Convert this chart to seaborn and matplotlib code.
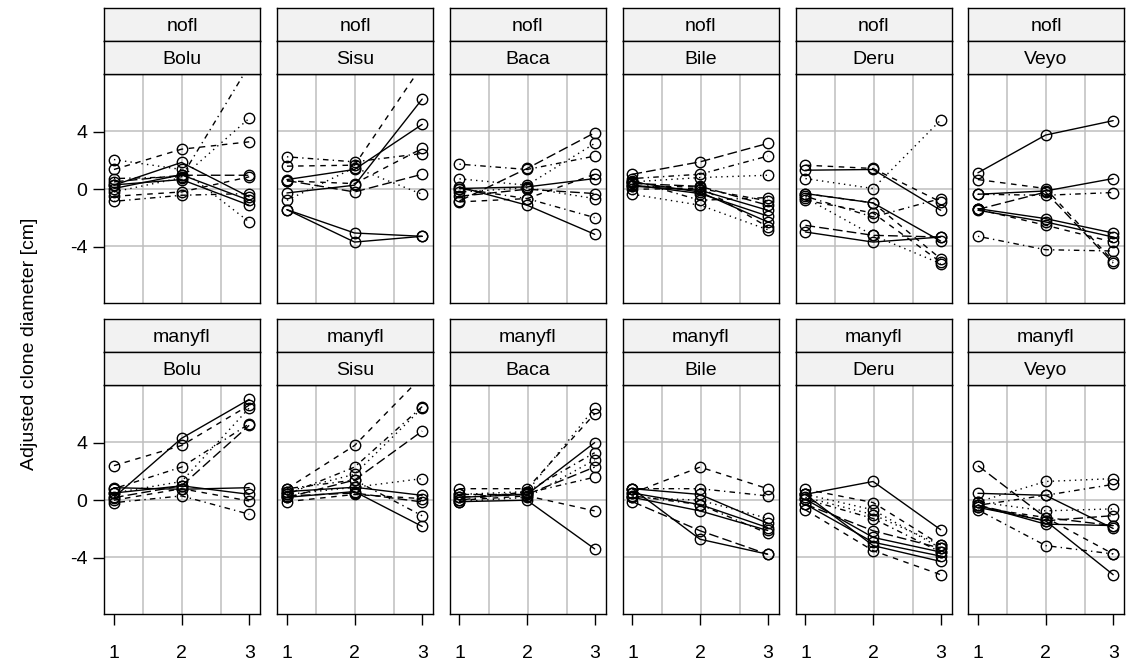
import pandas as pd
import matplotlib
matplotlib.use("Agg")
import matplotlib.pyplot as plt
import seaborn as sns

sites = ["Bolu", "Sisu", "Baca", "Bile", "Deru", "Veyo"]
flowering = ["nofl", "manyfl"]
times = [1, 2, 3]
yticks = [-4, 0, 4]

# one tuple per plant: adjusted diameter at time 1, 2, 3
nofl_bolu = [(2.06, 1.37, -2.27), (1.37, 2.78, 3.29), (0.28, 1.86, -0.53), (0.05, 1.0, -0.77),
             (0.51, 0.97, 0.97), (0.74, 0.86, 8.6), (-0.19, 0.8, 4.92), (-0.49, -0.19, 0.86),
             (-0.84, -0.42, -0.30), (0.3, 0.67, -1.11)]
nofl_bolu_lty = ["dotted", "dashed", "solid", "solid", "longdash", "dotdash", "dotted",
                 "dashed", "dotdash", "solid"]
nofl_sisu = [(2.25, 1.9, 2.48), (1.6, 1.67, 8.6), (0.67, 1.37, 4.5), (0.58, 0.39, 2.83),
             (-0.26, 0.28, 6.26), (-0.77, 1.5, -0.35), (0.6, -0.19, 1.04),
             (-1.42, -3.04, -3.27), (-1.42, -3.67, -3.27)]
nofl_sisu_lty = ["dotdash", "dashed", "solid", "dashed", "solid", "dotted", "longdash",
                 "solid", "solid"]
nofl_baca = [(1.74, 1.37, 2.3), (0.16, -1.11, -3.13), (-0.81, 1.44, 3.92), (0.72, 0.28, 3.18),
             (-0.88, -0.65, 1.04), (0.05, 0.16, 0.74), (-0.49, 0.0, -0.3),
             (0.05, -0.65, -1.97), (-0.2, 0.1, -0.65)]
nofl_baca_lty = ["dotdash", "solid", "longdash", "dotted", "dashed", "solid", "longdash",
                 "dotdash", "dotted"]
nofl_bile = [(1.04, 1.9, 3.18), (0.74, 1.04, 2.3), (0.51, 0.81, 0.97), (0.21, -0.07, -1.46),
             (0.3, -0.3, -1.86), (0.5, -0.2, -2.27), (0.2, 0.16, -2.62), (-0.35, -1.11, -2.81),
             (0.6, -0.77, -0.58), (0.0, 0.05, -0.81), (0.4, 0.2, -1.11)]
nofl_bile_lty = ["longdash", "dotdash", "dotted", "solid", "solid", "solid", "dashed",
                 "dotted", "dotdash", "dashed", "longdash"]
nofl_deru = [(1.67, 1.44, -0.88), (1.32, 1.37, -1.46), (0.74, 0.05, 4.8), (-0.3, -0.95, -3.6),
             (-0.49, -1.93, -0.65), (-0.77, -1.65, -5.06), (-0.6, -3.2, -5.17),
             (-2.51, -3.2, -3.32), (-2.97, -3.67, -3.32), (-0.3, -0.95, -4.83)]
nofl_deru_lty = ["dashed", "solid", "dotted", "solid", "dotdash", "dashed", "dotted",
                 "longdash", "solid", "dashed"]
nofl_veyo = [(1.14, 3.76, 4.76), (0.67, 0.05, -4.99), (-0.35, -0.12, 0.74), (-0.35, -0.42, -0.23),
             (-1.35, -2.04, -3.04), (-1.46, -2.27, -3.32), (-1.4, -2.5, -3.67),
             (-3.27, -4.2, -4.29), (-1.4, -0.2, -5.13)]
nofl_veyo_lty = ["solid", "dashed", "solid", "dotdash", "solid", "solid", "dashed",
                 "dotdash", "longdash"]

manyfl_bolu = [(2.4, 3.8, 6.6), (0.2, 4.3, 7.0), (0.5, 1.3, 6.4), (0.8, 2.3, 5.3),
               (0.18, 1.0, 5.2), (0.87, 0.76, 0.87), (-0.17, 0.3, -0.97), (0.0, 0.8, -0.05),
               (0.5, 1.0, 0.41)]
manyfl_bolu_lty = ["dashed", "solid", "dotted", "dotdash", "longdash", "solid", "dotdash",
                   "dashed", "solid"]
manyfl_sisu = [(0.8, 3.8, 8.6), (0.4, 2.3, 6.5), (0.6, 1.8, 6.4), (0.2, 1.4, 4.8),
               (0.4, 0.9, 1.5), (0.6, 0.9, 0.34), (-0.1, 0.4, 0.11), (0.2, 0.6, -1.82),
               (0.8, 1.4, -1.08), (0.3, 0.5, -0.12)]
manyfl_sisu_lty = ["dashed", "dotdash", "dotted", "longdash", "dotted", "solid", "dashed",
                   "solid", "dotdash", "longdash"]
manyfl_baca = [(0.8, 0.8, 6.0), (0.4, 0.6, 6.4), (0.2, 0.4, 4.0), (0.0, 0.6, 3.3),
               (-0.1, 0.2, 2.8), (0.4, 0.4, 2.3), (0.2, 0.5, 1.6), (0.0, 0.3, -0.74),
               (-0.1, 0.0, -3.38)]
manyfl_baca_lty = ["dashed", "dotted", "solid", "dotdash", "dotted", "longdash", "dotdash",
                   "dashed", "solid"]
manyfl_bile = [(0.5, 2.3, 0.8), (0.8, 0.8, 0.3), (0.8, 0.4, -1.6), (0.5, -0.3, -1.9),
               (0.2, -0.74, -2.1), (0.2, 0.0, -1.26), (0.8, -2.71, -3.75), (-0.1, -2.12, -3.75),
               (0.3, -0.3, -2.3)]
manyfl_bile_lty = ["dashed", "dotdash", "solid", "solid", "solid", "dotted", "solid",
                   "longdash", "dotdash"]
manyfl_deru = [(0.41, 1.3, -2.05), (0.76, -0.16, -3.1), (0.41, -0.67, -3.33), (0.07, -1.27, -3.6),
               (0.07, -2.58, -3.6), (-0.28, -2.92, -3.88), (-0.28, -2.12, -3.33),
               (-0.67, -3.5, -5.17), (0.4, -3.15, -4.25), (0.2, -1.0, -3.1)]
manyfl_deru_lty = ["solid", "dashed", "dotted", "dotdash", "solid", "solid", "longdash",
                   "dashed", "solid", "dotted"]
manyfl_veyo = [(2.4, -1.2, -1.76), (0.48, 0.34, -1.96), (-0.12, 1.3, 1.5), (-0.35, 0.34, 1.1),
               (-0.5, -1.43, -5.17), (-0.35, -1.66, -1.76), (-0.67, -3.15, -3.73),
               (-0.5, -1.2, -3.73), (-0.12, -0.74, -0.6), (-0.35, -1.43, -1.07)]
manyfl_veyo_lty = ["longdash", "solid", "dotted", "dotdash", "solid", "solid", "dotdash",
                   "dashed", "dotted", "longdash"]

panels = {
    ("nofl", "Bolu"): (nofl_bolu, nofl_bolu_lty), ("nofl", "Sisu"): (nofl_sisu, nofl_sisu_lty),
    ("nofl", "Baca"): (nofl_baca, nofl_baca_lty), ("nofl", "Bile"): (nofl_bile, nofl_bile_lty),
    ("nofl", "Deru"): (nofl_deru, nofl_deru_lty), ("nofl", "Veyo"): (nofl_veyo, nofl_veyo_lty),
    ("manyfl", "Bolu"): (manyfl_bolu, manyfl_bolu_lty), ("manyfl", "Sisu"): (manyfl_sisu, manyfl_sisu_lty),
    ("manyfl", "Baca"): (manyfl_baca, manyfl_baca_lty), ("manyfl", "Bile"): (manyfl_bile, manyfl_bile_lty),
    ("manyfl", "Deru"): (manyfl_deru, manyfl_deru_lty), ("manyfl", "Veyo"): (manyfl_veyo, manyfl_veyo_lty),
}

rows = []
for (fl, site), (plants, ltys) in panels.items():
    for i, (vals, lty) in enumerate(zip(plants, ltys)):
        for t, v in zip(times, vals):
            rows.append({"flowering": fl, "site": site, "plant": i, "lty": lty, "time": t, "diam": v})
df = pd.DataFrame(rows)

# R-like line types
DASHES = {"solid": "", "dashed": (4, 4), "dotted": (1, 3), "dotdash": (1, 3, 4, 3),
          "longdash": (7, 3)}

sns.set_style("white")
plt.rcParams["font.family"] = ["Liberation Sans", "DejaVu Sans"]
plt.rcParams["axes.unicode_minus"] = False
plt.rcParams["text.color"] = "black"
plt.rcParams["xtick.color"] = "black"
plt.rcParams["ytick.color"] = "black"

W, H = 1128, 666
fig = plt.figure(figsize=(W / 100, H / 100), dpi=100)

lefts = [104, 277, 449.5, 622.5, 795.5, 968]
pw = 156
tops = [74, 385]
ph = 229
sh = 33
xlim = (0.853, 3.16)
ylim = (-7.9, 8.0)
FS = 14


def fbox(x, y, w, h):
    return [x / W, 1 - (y + h) / H, w / W, h / H]


for r, fl in enumerate(flowering):
    for c, site in enumerate(sites):
        ax = fig.add_axes(fbox(lefts[c], tops[r], pw, ph))
        for k in (1, 2, 3):
            ax.axvline(xlim[0] + k * (xlim[1] - xlim[0]) / 4, color="#bebebe", lw=1.1, zorder=0)
            ax.axhline(ylim[0] + k * (ylim[1] - ylim[0]) / 4, color="#bebebe", lw=1.1, zorder=0)
        sub = df[(df["flowering"] == fl) & (df["site"] == site)]
        sns.lineplot(data=sub, x="time", y="diam", units="plant", style="lty", dashes=DASHES,
                     estimator=None, sort=False, color="black", lw=1.0, marker="o",
                     mfc="none", mec="black", ms=7.5, mew=1.0, legend=False, ax=ax)
        ax.set_xlim(*xlim)
        ax.set_ylim(*ylim)
        ax.set_xlabel("")
        ax.set_ylabel("")
        for s in ax.spines.values():
            s.set_color("black")
            s.set_linewidth(1)
        ax.set_xticks(times)
        ax.set_yticks(yticks)
        ax.tick_params(direction="out", length=8, width=1, labelsize=FS,
                       bottom=(r == 1), left=(c == 0),
                       labelbottom=(r == 1), labelleft=(c == 0))
        ax.tick_params(axis="x", pad=14)
        ax.tick_params(axis="y", pad=4)
        if r == 1:
            ax.set_xticklabels([str(t) for t in times])
        if c == 0:
            ax.set_yticklabels([str(t) for t in yticks])

        # two stacked strips: flowering on top, site below
        for j, label in enumerate([fl, site]):
            sax = fig.add_axes(fbox(lefts[c], tops[r] - sh * (2 - j), pw, sh))
            sax.set_facecolor("#f2f2f2")
            sax.set_xticks([])
            sax.set_yticks([])
            for s in sax.spines.values():
                s.set_color("black")
                s.set_linewidth(1)
            sax.text(0.5, 0.45, label, ha="center", va="center", fontsize=FS,
                     transform=sax.transAxes)

fig.text(30 / W, 1 - 344 / H, "Adjusted clone diameter [cm]", rotation=90,
         ha="center", va="center", fontsize=FS)

fig.savefig("out.png", dpi=100)
